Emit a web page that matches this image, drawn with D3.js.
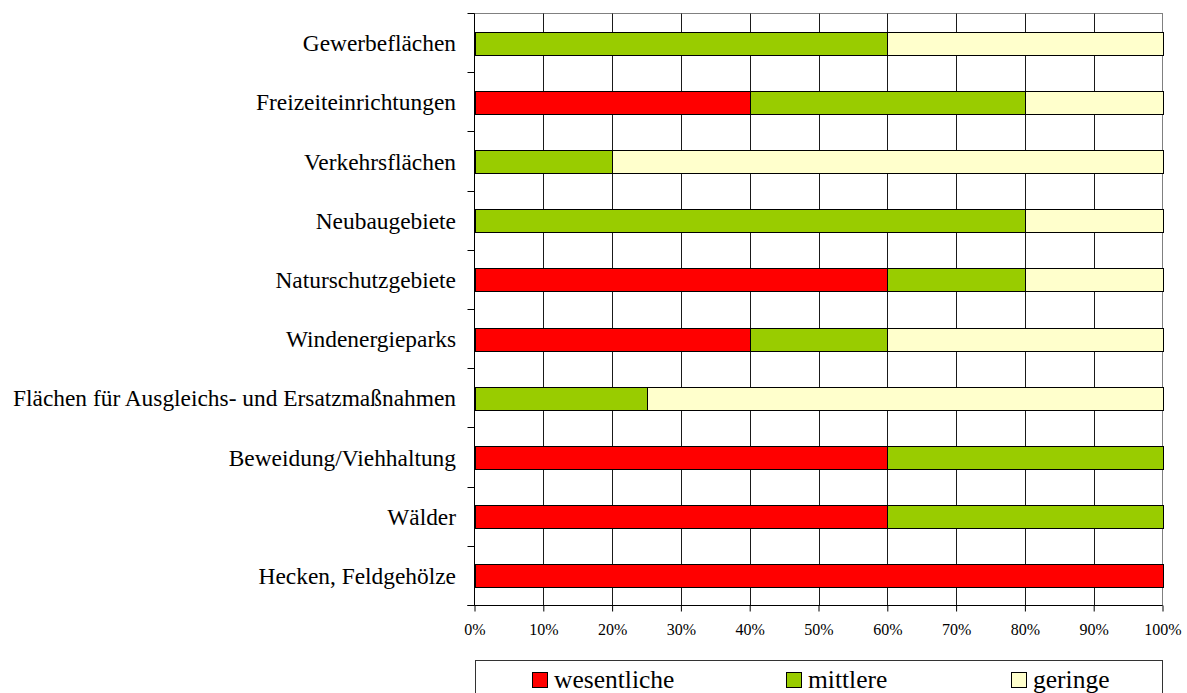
<!DOCTYPE html>
<html>
<head>
<meta charset="utf-8">
<script src="https://cdn.jsdelivr.net/npm/d3@7"></script>
<style>
  body { margin: 0; background: #fff; }
  svg { display: block; }
  svg text { font-family: "Liberation Serif", "Times New Roman", "DejaVu Serif", serif; }
</style>
</head>
<body>
<svg width="1187" height="693"></svg>
<script>
// categories, top to bottom
var categories = [
    "Gewerbeflächen",
    "Freizeiteinrichtungen",
    "Verkehrsflächen",
    "Neubaugebiete",
    "Naturschutzgebiete",
    "Windenergieparks",
    "Flächen für Ausgleichs- und Ersatzmaßnahmen",
    "Beweidung/Viehhaltung",
    "Wälder",
    "Hecken, Feldgehölze"
];
var seriesNames = ["wesentliche", "mittlere", "geringe"];
var wesentliche = [0, 40, 0, 0, 60, 40, 0, 60, 60, 100];
var mittlere    = [60, 40, 20, 80, 20, 20, 25, 40, 40, 0];
var geringe     = [40, 20, 80, 20, 20, 40, 75, 0, 0, 0];
var seriesColors = ["#ff0000", "#99cc00", "#ffffcc"];
var tickValues = [0, 10, 20, 30, 40, 50, 60, 70, 80, 90, 100];

(function() {
    var serif = "'Liberation Serif', 'Times New Roman', 'DejaVu Serif', serif";
    var rows = categories.map(function(c, i) {
        return { name: c, wesentliche: wesentliche[i], mittlere: mittlere[i], geringe: geringe[i] };
    });

    var svg = d3.select("svg");
    var plotLeft = 474.5, plotRight = 1162.5, plotTop = 13.5, plotBottom = 605.5;

    var x = d3.scaleLinear().domain([0, 100]).range([plotLeft, plotRight]);
    var y = d3.scaleBand().domain(categories).range([plotTop, plotBottom]).paddingInner(0.61).paddingOuter(0.305);
    var step = y.step();

    // plot border
    svg.append("rect")
        .attr("x", plotLeft).attr("y", plotTop)
        .attr("width", plotRight - plotLeft).attr("height", plotBottom - plotTop)
        .attr("fill", "none").attr("stroke", "#808080");

    // vertical gridlines
    svg.append("g").selectAll("line")
        .data(tickValues.slice(1, -1))
        .enter().append("line")
        .attr("x1", function(d) { return Math.round(x(d)) + 0.5; })
        .attr("x2", function(d) { return Math.round(x(d)) + 0.5; })
        .attr("y1", plotTop).attr("y2", plotBottom)
        .attr("stroke", "#1a1a1a");

    // stacked bars
    var stack = d3.stack().keys(seriesNames)(rows);
    svg.append("g").selectAll("g")
        .data(stack)
        .enter().append("g")
        .attr("fill", function(d, i) { return seriesColors[i]; })
        .selectAll("rect")
        .data(function(d) { return d.filter(function(p) { return p[1] - p[0] > 0; }); })
        .enter().append("rect")
        .attr("x", function(d) { return Math.round(x(d[0])) + 0.5; })
        .attr("width", function(d) { return Math.round(x(d[1])) - Math.round(x(d[0])); })
        .attr("y", function(d) { return Math.round(y(d.data.name)) + 0.5; })
        .attr("height", Math.round(y.bandwidth()))
        .attr("stroke", "#000").attr("stroke-width", 1);

    // left axis with ticks between categories
    svg.append("line")
        .attr("x1", plotLeft).attr("x2", plotLeft).attr("y1", plotTop).attr("y2", plotBottom)
        .attr("stroke", "#000");
    svg.append("g").selectAll("line")
        .data(d3.range(categories.length + 1))
        .enter().append("line")
        .attr("x1", plotLeft - 7).attr("x2", plotLeft)
        .attr("y1", function(i) { return Math.round(plotTop + i * step - 0.5) + 0.5; })
        .attr("y2", function(i) { return Math.round(plotTop + i * step - 0.5) + 0.5; })
        .attr("stroke", "#000");

    svg.append("g").selectAll("text")
        .data(categories)
        .enter().append("text")
        .attr("x", 456)
        .attr("y", function(d) { return y(d) + y.bandwidth() / 2 + 8; })
        .attr("text-anchor", "end")
        .attr("font-family", serif)
        .attr("font-size", "23.4px")
        .attr("fill", "#000")
        .text(function(d) { return d; });

    // bottom axis
    var xAxis = d3.axisBottom(x)
        .tickValues(tickValues)
        .tickSize(6)
        .tickPadding(12)
        .tickFormat(function(d) { return d + "%"; });
    var gx = svg.append("g").attr("transform", "translate(0," + plotBottom + ")").call(xAxis);
    gx.select(".domain").remove();
    gx.append("line").attr("x1", plotLeft - 7).attr("x2", plotRight).attr("stroke", "#000");
    gx.selectAll(".tick line").attr("stroke", "#000");
    gx.selectAll(".tick text")
        .attr("font-family", serif)
        .attr("font-size", "16px")
        .attr("fill", "#000");

    // legend
    svg.append("rect")
        .attr("x", 475.5).attr("y", 660.5)
        .attr("width", 687).attr("height", 60)
        .attr("fill", "#fff").attr("stroke", "#333");

    var legendX = [532, 786, 1011];
    var legend = svg.append("g").selectAll("g")
        .data(seriesNames)
        .enter().append("g")
        .attr("transform", function(d, i) { return "translate(" + legendX[i] + ",0)"; });
    legend.append("rect")
        .attr("x", 0.5).attr("y", 672.5)
        .attr("width", 15).attr("height", 15)
        .attr("fill", function(d, i) { return seriesColors[i]; })
        .attr("stroke", "#000");
    legend.append("text")
        .attr("x", 22).attr("y", 688)
        .attr("font-family", serif)
        .attr("font-size", "25.5px")
        .attr("fill", "#000")
        .text(function(d) { return d; });
})();
</script>
</body>
</html>
